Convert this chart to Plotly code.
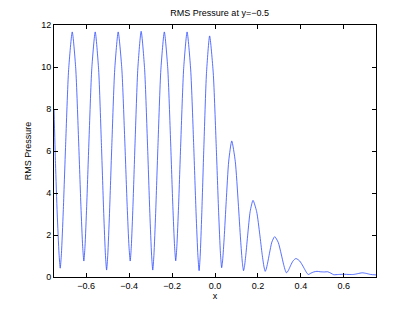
import plotly.graph_objects as go

# Values (x position, RMS pressure)
x_vals = [
    -0.750, -0.743, -0.735, -0.7265, -0.721,
    -0.7154, -0.707, -0.6958, -0.6818, -0.665,
    -0.6488, -0.6353, -0.6245, -0.6164, -0.611,
    -0.6057, -0.5978, -0.5872, -0.5739, -0.558,
    -0.5421, -0.5289, -0.5183, -0.5103, -0.505,
    -0.4996, -0.4915, -0.4807, -0.4672, -0.451,
    -0.4342, -0.4202, -0.409, -0.4006, -0.395,
    -0.3899, -0.3823, -0.3721, -0.3593, -0.344,
    -0.3278, -0.3143, -0.3035, -0.2954, -0.290,
    -0.2846, -0.2765, -0.2657, -0.2522, -0.236,
    -0.2201, -0.2069, -0.1963, -0.1883, -0.183,
    -0.1777, -0.1698, -0.1592, -0.1459, -0.130,
    -0.1132, -0.0992, -0.088, -0.0796, -0.074,
    -0.0691, -0.0618, -0.052, -0.0397, -0.025,
    -0.0082, 0.0058, 0.017, 0.0254, 0.031,
    0.0357, 0.0428, 0.0522, 0.0639, 0.078,
    0.0945, 0.1083, 0.1193, 0.1275, 0.133,
    0.1374, 0.144, 0.1528, 0.1638, 0.177,
    0.1941, 0.2084, 0.2198, 0.2283, 0.234,
    0.2384, 0.245, 0.2538, 0.2648, 0.278,
    0.2945, 0.3083, 0.3193, 0.3275, 0.333,
    0.3374, 0.344, 0.3528, 0.3638, 0.377,
    0.3947, 0.4095, 0.4213, 0.4291, 0.436,
    0.446, 0.460, 0.475, 0.490, 0.510, 0.525, 0.540, 0.553,
    0.575, 0.600, 0.625, 0.645, 0.665, 0.686, 0.705, 0.725, 0.750,
]
rms_pressure = [
    8.00, 5.40, 3.00, 1.10, 0.42,
    1.12, 3.09, 6.30, 9.88, 11.67,
    9.94, 6.47, 3.35, 1.44, 0.76,
    1.44, 3.35, 6.47, 9.94, 11.67,
    9.87, 6.26, 3.02, 1.03, 0.33,
    1.03, 3.02, 6.26, 9.87, 11.67,
    9.94, 6.47, 3.35, 1.44, 0.76,
    1.44, 3.35, 6.48, 9.96, 11.70,
    9.89, 6.28, 3.02, 1.04, 0.33,
    1.03, 3.02, 6.26, 9.87, 11.67,
    9.94, 6.47, 3.35, 1.45, 0.77,
    1.45, 3.35, 6.47, 9.94, 11.67,
    9.86, 6.25, 3.00, 1.01, 0.30,
    0.99, 2.95, 6.15, 9.70, 11.48,
    9.72, 6.21, 3.06, 1.12, 0.44,
    0.81, 1.87, 3.60, 5.52, 6.48,
    5.50, 3.53, 1.76, 0.68, 0.30,
    0.51, 1.09, 2.05, 3.12, 3.65,
    3.11, 2.04, 1.07, 0.48, 0.27,
    0.37, 0.66, 1.13, 1.66, 1.92,
    1.65, 1.10, 0.61, 0.31, 0.20,
    0.24, 0.36, 0.56, 0.77, 0.88,
    0.76, 0.52, 0.30, 0.17, 0.12,
    0.18, 0.24, 0.27, 0.25, 0.24, 0.25, 0.18, 0.11,
    0.12, 0.13, 0.12, 0.12, 0.16, 0.20, 0.17, 0.12, 0.10,
]

x_ticks = [-0.6, -0.4, -0.2, 0, 0.2, 0.4, 0.6]
y_ticks = [0, 2, 4, 6, 8, 10, 12]

font_family = "Liberation Sans, Arial, Helvetica, sans-serif"

fig = go.Figure()
fig.add_trace(go.Scatter(
    x=x_vals, y=rms_pressure, mode="lines",
    line=dict(color="rgb(45,75,255)", width=0.8, shape="spline", smoothing=0.6),
    showlegend=False,
))

axis_common = dict(
    showgrid=False, zeroline=False, showline=True, linecolor="#000000",
    linewidth=1, mirror="ticks", ticks="inside", ticklen=4, tickcolor="#000000",
    tickwidth=1, tickfont=dict(size=9, color="#000000", family=font_family),
)

# The page body has an 8px default margin, so the figure is 8px smaller
fig.update_layout(
    width=407, height=305,
    margin=dict(l=46, r=39, t=15, b=36),
    paper_bgcolor="white", plot_bgcolor="white",
    font=dict(family=font_family, size=9, color="#000000"),
    title=dict(text="RMS Pressure at y=\u22120.5", x=0.52, xanchor="center",
               y=0.983, yanchor="middle", font=dict(size=9, color="#000000")),
    xaxis=dict(range=[-0.75, 0.75], tickvals=x_ticks, tickformat=".1f",
               title=dict(text="x", standoff=2, font=dict(size=9)), **axis_common),
    yaxis=dict(range=[0, 12], tickvals=y_ticks,
               title=dict(text="RMS Pressure", standoff=8, font=dict(size=9)), **axis_common),
)

fig.write_html("out.html")
